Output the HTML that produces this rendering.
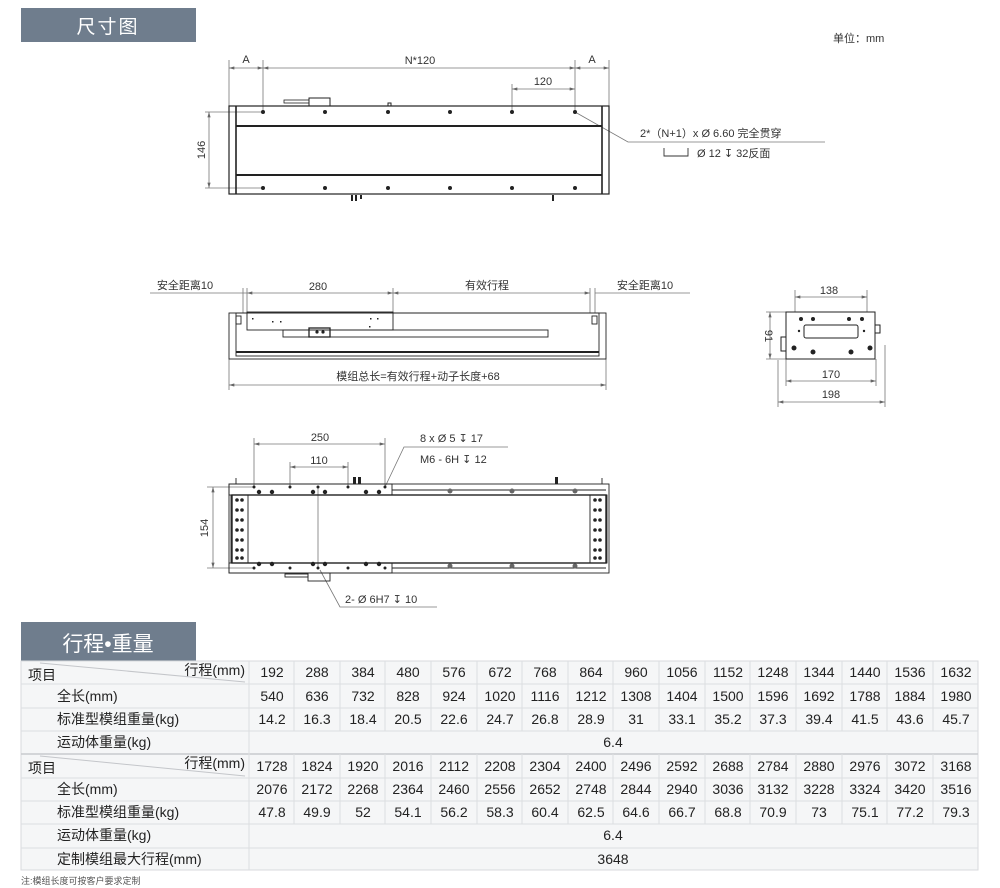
<!DOCTYPE html>
<html><head><meta charset="utf-8"><style>
html,body{margin:0;padding:0;background:#fff;width:1000px;height:888px;overflow:hidden}
svg{display:block;font-family:"Liberation Sans","Noto Sans CJK SC",sans-serif}
</style></head><body>
<svg width="1000" height="888" viewBox="0 0 1000 888" xmlns="http://www.w3.org/2000/svg">
<defs>
<marker id="a" viewBox="0 0 10 6" refX="10" refY="3" markerWidth="8" markerHeight="4" orient="auto-start-reverse"><path d="M0,0L10,3L0,6z" fill="#666"/></marker>
</defs>
<rect x="21" y="8" width="175" height="34" fill="#6f7d8d"/>
<text x="108" y="33" font-size="19" fill="#fff" text-anchor="middle" letter-spacing="2">尺寸图</text>
<text x="833" y="42" font-size="11" fill="#333">单位：mm</text>

<g stroke="#777" stroke-width="0.8" fill="none">
<line x1="229" y1="60" x2="229" y2="106"/><line x1="263" y1="60" x2="263" y2="112"/>
<line x1="575" y1="60" x2="575" y2="112"/><line x1="609" y1="60" x2="609" y2="106"/>
<line x1="229" y1="68" x2="263" y2="68" marker-start="url(#a)" marker-end="url(#a)"/>
<line x1="263" y1="68" x2="575" y2="68" marker-start="url(#a)" marker-end="url(#a)"/>
<line x1="575" y1="68" x2="609" y2="68" marker-start="url(#a)" marker-end="url(#a)"/>
<line x1="512" y1="84" x2="512" y2="112"/>
<line x1="512" y1="89" x2="575" y2="89" marker-start="url(#a)" marker-end="url(#a)"/>
<line x1="205" y1="112" x2="263" y2="112"/><line x1="205" y1="188" x2="263" y2="188"/>
<line x1="209" y1="112" x2="209" y2="188" marker-start="url(#a)" marker-end="url(#a)"/>
<polyline points="575,112 628,142 825,142"/>
<line x1="150" y1="293" x2="247" y2="293"/>
<line x1="247" y1="293" x2="393" y2="293" marker-start="url(#a)" marker-end="url(#a)"/>
<line x1="393" y1="293" x2="590" y2="293" marker-start="url(#a)" marker-end="url(#a)"/>
<line x1="595" y1="293" x2="690" y2="293"/>
<line x1="243" y1="288" x2="243" y2="313"/><line x1="247" y1="288" x2="247" y2="313"/>
<line x1="393" y1="288" x2="393" y2="313"/>
<line x1="590" y1="288" x2="590" y2="313"/><line x1="595" y1="288" x2="595" y2="313"/>
<line x1="229" y1="359" x2="229" y2="390"/><line x1="606" y1="359" x2="606" y2="390"/>
<line x1="229" y1="385" x2="606" y2="385" marker-start="url(#a)" marker-end="url(#a)"/>
<line x1="795" y1="290" x2="795" y2="312"/><line x1="867" y1="290" x2="867" y2="312"/>
<line x1="795" y1="297" x2="867" y2="297" marker-start="url(#a)" marker-end="url(#a)"/>
<line x1="766" y1="312" x2="786" y2="312"/><line x1="766" y1="359" x2="786" y2="359"/>
<line x1="770" y1="312" x2="770" y2="359" marker-start="url(#a)" marker-end="url(#a)"/>
<line x1="786" y1="359" x2="786" y2="386"/><line x1="876" y1="359" x2="876" y2="386"/>
<line x1="778" y1="360" x2="778" y2="407"/><line x1="885" y1="345" x2="885" y2="407"/>
<line x1="786" y1="381" x2="876" y2="381" marker-start="url(#a)" marker-end="url(#a)"/>
<line x1="778" y1="402" x2="885" y2="402" marker-start="url(#a)" marker-end="url(#a)"/>
<line x1="254" y1="438" x2="254" y2="487"/><line x1="385" y1="438" x2="385" y2="487"/>
<line x1="254" y1="444" x2="385" y2="444" marker-start="url(#a)" marker-end="url(#a)"/>
<line x1="290" y1="462" x2="290" y2="487"/><line x1="348" y1="462" x2="348" y2="487"/>
<line x1="290" y1="467" x2="348" y2="467" marker-start="url(#a)" marker-end="url(#a)"/>
<line x1="207" y1="487" x2="254" y2="487"/><line x1="207" y1="568" x2="254" y2="568"/>
<line x1="213" y1="487" x2="213" y2="568" marker-start="url(#a)" marker-end="url(#a)"/>
<polyline points="385,487 404,447 508,447"/>
<polyline points="320,570 340,607 437,607"/>
<line x1="318" y1="487" x2="318" y2="568"/>
</g>
<g font-size="11" fill="#333" text-anchor="middle">
<text x="246" y="63">A</text><text x="420" y="64">N*120</text><text x="592" y="63">A</text>
<text x="543" y="85">120</text>
<text transform="translate(205,150) rotate(-90)">146</text>
<text x="640" y="137" text-anchor="start">2*（N+1）x Ø 6.60 完全贯穿</text>
<text x="697" y="157" text-anchor="start">Ø 12 ↧ 32反面</text>
<text x="185" y="289">安全距离10</text><text x="318" y="290">280</text>
<text x="487" y="289">有效行程</text><text x="645" y="289">安全距离10</text>
<text x="418" y="380">模组总长=有效行程+动子长度+68</text>
<text x="829" y="294">138</text><text transform="translate(765,336) rotate(90)">91</text>
<text x="831" y="378">170</text><text x="831" y="398">198</text>
<text x="320" y="441">250</text><text x="319" y="464">110</text>
<text transform="translate(208,528) rotate(-90)">154</text>
<text x="420" y="442" text-anchor="start">8 x Ø 5 ↧ 17</text>
<text x="420" y="463" text-anchor="start">M6 - 6H ↧ 12</text>
<text x="345" y="603" text-anchor="start">2- Ø 6H7 ↧ 10</text>
</g>
<path d="M664,148v8h24v-8" stroke="#333" fill="none" stroke-width="0.9"/>

<g stroke="#222" fill="none">
<rect x="229" y="106" width="380" height="88" stroke-width="1.2"/>
<line x1="236" y1="106" x2="236" y2="194" stroke-width="1.6"/><line x1="602" y1="106" x2="602" y2="194" stroke-width="1.6"/>
<line x1="236" y1="126" x2="602" y2="126" stroke-width="2"/><line x1="236" y1="175" x2="602" y2="175" stroke-width="2"/>
<rect x="309" y="98" width="21" height="8" stroke-width="1"/><rect x="284" y="100" width="25" height="3" stroke-width="0.8"/>
<rect x="388" y="103" width="3" height="3"/>
<path d="M352,195v6M356,195v6M361,195v4M553,195v6" stroke-width="2"/>
</g>
<g fill="#222">
<circle cx="263" cy="112" r="2"/><circle cx="325" cy="112" r="2"/><circle cx="388" cy="112" r="2"/><circle cx="450" cy="112" r="2"/><circle cx="512" cy="112" r="2"/><circle cx="575" cy="112" r="2"/>
<circle cx="263" cy="188" r="2"/><circle cx="325" cy="188" r="2"/><circle cx="388" cy="188" r="2"/><circle cx="450" cy="188" r="2"/><circle cx="512" cy="188" r="2"/><circle cx="575" cy="188" r="2"/>
</g>

<g stroke="#222" fill="none" stroke-width="0.9">
<rect x="229" y="313" width="377" height="46"/>
<rect x="236" y="313" width="363" height="43"/>
<rect x="247" y="312" width="146" height="18"/>
<rect x="283" y="330" width="265" height="7"/>
<rect x="309" y="328" width="21" height="9" stroke-width="1.3"/>
<line x1="236" y1="352" x2="599" y2="352" stroke-width="2"/>
<rect x="236" y="316" width="5" height="8"/><rect x="592" y="316" width="5" height="8"/>
</g>
<g fill="#222"><circle cx="317" cy="332" r="1.6"/><circle cx="323" cy="332" r="1.6"/><rect x="252" y="318" width="1.5" height="1.5"/><rect x="272" y="321" width="1.5" height="1.5"/><rect x="280" y="321" width="1.5" height="1.5"/><rect x="370" y="318" width="1.5" height="1.5"/><rect x="377" y="318" width="1.5" height="1.5"/><rect x="369" y="326" width="1.5" height="1.5"/></g>
<g stroke="#222" fill="none" stroke-width="1">
<rect x="786" y="312" width="89" height="47"/>
<rect x="804" y="325" width="54" height="13" rx="2"/>
<rect x="875" y="325" width="5" height="8"/><rect x="781" y="337" width="5" height="14"/>
</g>
<g fill="#222"><circle cx="801" cy="319" r="2"/><circle cx="813" cy="319" r="2"/><circle cx="849" cy="319" r="2"/><circle cx="862" cy="319" r="2"/><circle cx="794" cy="348" r="2.5"/><circle cx="813" cy="352" r="2.5"/><circle cx="851" cy="352" r="2.5"/><circle cx="870" cy="348" r="2.5"/><circle cx="799" cy="331" r="1.2"/><circle cx="864" cy="331" r="1.2"/></g>

<g stroke="#222" fill="none" stroke-width="0.9">
<rect x="229" y="484" width="380" height="89"/>
<rect x="232" y="495" width="374" height="68" stroke-width="1.4"/>
<line x1="392" y1="490" x2="606" y2="490"/><line x1="392" y1="568" x2="606" y2="568"/>
<rect x="229" y="484" width="163" height="11"/><rect x="229" y="563" width="163" height="10"/>
<rect x="231" y="495" width="17" height="68"/><rect x="590" y="495" width="17" height="68"/>
<rect x="308" y="573" width="22" height="8"/><rect x="285" y="574" width="23" height="3"/>
<line x1="236" y1="478" x2="236" y2="484"/><line x1="602" y1="478" x2="602" y2="484"/>
</g>
<g fill="#222">
<rect x="353" y="477" width="3" height="7"/><rect x="358" y="477" width="3" height="7"/><rect x="555" y="477" width="3" height="7"/>
<circle cx="254" cy="487" r="1.5"/><circle cx="290" cy="487" r="1.5"/><circle cx="318" cy="487" r="1.5"/><circle cx="348" cy="487" r="1.5"/><circle cx="385" cy="487" r="1.5"/>
<circle cx="259" cy="492" r="2.2"/><circle cx="272" cy="492" r="2.2"/><circle cx="313" cy="492" r="2.2"/><circle cx="325" cy="492" r="2.2"/><circle cx="366" cy="492" r="2.2"/><circle cx="379" cy="492" r="2.2"/>
<circle cx="254" cy="568" r="1.5"/><circle cx="290" cy="568" r="1.5"/><circle cx="318" cy="568" r="1.5"/><circle cx="348" cy="568" r="1.5"/><circle cx="385" cy="568" r="1.5"/>
<circle cx="259" cy="564" r="2.2"/><circle cx="272" cy="564" r="2.2"/><circle cx="313" cy="564" r="2.2"/><circle cx="325" cy="564" r="2.2"/><circle cx="366" cy="564" r="2.2"/><circle cx="379" cy="564" r="2.2"/>
<circle cx="450" cy="491" r="2.5" fill="#666"/><circle cx="512" cy="491" r="2.5" fill="#666"/><circle cx="575" cy="491" r="2.5" fill="#666"/>
<circle cx="450" cy="566" r="2.5" fill="#666"/><circle cx="512" cy="566" r="2.5" fill="#666"/><circle cx="575" cy="566" r="2.5" fill="#666"/>
<g id="ep"><circle cx="237" cy="500" r="1.8"/><circle cx="242" cy="500" r="1.8"/><circle cx="237" cy="510" r="1.8"/><circle cx="242" cy="510" r="1.8"/><circle cx="237" cy="520" r="1.8"/><circle cx="242" cy="520" r="1.8"/><circle cx="237" cy="530" r="1.8"/><circle cx="242" cy="530" r="1.8"/><circle cx="237" cy="540" r="1.8"/><circle cx="242" cy="540" r="1.8"/><circle cx="237" cy="550" r="1.8"/><circle cx="242" cy="550" r="1.8"/><circle cx="237" cy="558" r="1.8"/><circle cx="242" cy="558" r="1.8"/></g>
<use href="#ep" x="358"/>
</g>

<rect x="21" y="622" width="175" height="39" fill="#6f7d8d"/>
<text x="108" y="651" font-size="21" fill="#fff" text-anchor="middle">行程•重量</text>

<rect x="21" y="661" width="957" height="209" fill="#f5f6f7" stroke="#d8dadd"/>
<g stroke="#dcdee1" stroke-width="1">
<line x1="21" y1="684" x2="978" y2="684"/><line x1="21" y1="708" x2="978" y2="708"/><line x1="21" y1="731" x2="978" y2="731"/><line x1="21" y1="754" x2="978" y2="754" stroke="#c8cace" stroke-width="1.5"/><line x1="21" y1="778" x2="978" y2="778"/><line x1="21" y1="801" x2="978" y2="801"/><line x1="21" y1="824" x2="978" y2="824"/><line x1="21" y1="848" x2="978" y2="848"/>
<line x1="249" y1="661" x2="249" y2="870"/>
<path d="M294,661V731M340,661V731M385,661V731M431,661V731M477,661V731M522,661V731M568,661V731M613,661V731M659,661V731M705,661V731M750,661V731M796,661V731M842,661V731M887,661V731M933,661V731"/>
<path d="M294,754V824M340,754V824M385,754V824M431,754V824M477,754V824M522,754V824M568,754V824M613,754V824M659,754V824M705,754V824M750,754V824M796,754V824M842,754V824M887,754V824M933,754V824"/>
<line x1="40" y1="663" x2="245" y2="682" stroke="#c4c6ca"/><line x1="40" y1="756" x2="245" y2="776" stroke="#c4c6ca"/>
</g>
<g font-size="14" fill="#222">
<text x="28" y="680">项目</text><text x="245" y="675" text-anchor="end">行程(mm)</text>
<text x="57" y="701">全长(mm)</text><text x="57" y="724">标准型模组重量(kg)</text><text x="57" y="747">运动体重量(kg)</text>
<text x="28" y="773">项目</text><text x="245" y="768" text-anchor="end">行程(mm)</text>
<text x="57" y="794">全长(mm)</text><text x="57" y="817">标准型模组重量(kg)</text><text x="57" y="840">运动体重量(kg)</text><text x="57" y="864">定制模组最大行程(mm)</text>
</g>
<g font-size="14" fill="#222" text-anchor="middle">
<g transform="translate(0,677)"><text x="272">192</text><text x="317">288</text><text x="363">384</text><text x="408">480</text><text x="454">576</text><text x="500">672</text><text x="545">768</text><text x="591">864</text><text x="636">960</text><text x="682">1056</text><text x="728">1152</text><text x="773">1248</text><text x="819">1344</text><text x="865">1440</text><text x="910">1536</text><text x="956">1632</text></g>
<g transform="translate(0,701)"><text x="272">540</text><text x="317">636</text><text x="363">732</text><text x="408">828</text><text x="454">924</text><text x="500">1020</text><text x="545">1116</text><text x="591">1212</text><text x="636">1308</text><text x="682">1404</text><text x="728">1500</text><text x="773">1596</text><text x="819">1692</text><text x="865">1788</text><text x="910">1884</text><text x="956">1980</text></g>
<g transform="translate(0,724)"><text x="272">14.2</text><text x="317">16.3</text><text x="363">18.4</text><text x="408">20.5</text><text x="454">22.6</text><text x="500">24.7</text><text x="545">26.8</text><text x="591">28.9</text><text x="636">31</text><text x="682">33.1</text><text x="728">35.2</text><text x="773">37.3</text><text x="819">39.4</text><text x="865">41.5</text><text x="910">43.6</text><text x="956">45.7</text></g>
<text x="613" y="747">6.4</text>
<g transform="translate(0,771)"><text x="272">1728</text><text x="317">1824</text><text x="363">1920</text><text x="408">2016</text><text x="454">2112</text><text x="500">2208</text><text x="545">2304</text><text x="591">2400</text><text x="636">2496</text><text x="682">2592</text><text x="728">2688</text><text x="773">2784</text><text x="819">2880</text><text x="865">2976</text><text x="910">3072</text><text x="956">3168</text></g>
<g transform="translate(0,794)"><text x="272">2076</text><text x="317">2172</text><text x="363">2268</text><text x="408">2364</text><text x="454">2460</text><text x="500">2556</text><text x="545">2652</text><text x="591">2748</text><text x="636">2844</text><text x="682">2940</text><text x="728">3036</text><text x="773">3132</text><text x="819">3228</text><text x="865">3324</text><text x="910">3420</text><text x="956">3516</text></g>
<g transform="translate(0,817)"><text x="272">47.8</text><text x="317">49.9</text><text x="363">52</text><text x="408">54.1</text><text x="454">56.2</text><text x="500">58.3</text><text x="545">60.4</text><text x="591">62.5</text><text x="636">64.6</text><text x="682">66.7</text><text x="728">68.8</text><text x="773">70.9</text><text x="819">73</text><text x="865">75.1</text><text x="910">77.2</text><text x="956">79.3</text></g>
<text x="613" y="840">6.4</text>
<text x="613" y="864">3648</text>
</g>
<text x="21" y="884" font-size="9" fill="#555">注:模组长度可按客户要求定制</text>
</svg>
</body></html>
